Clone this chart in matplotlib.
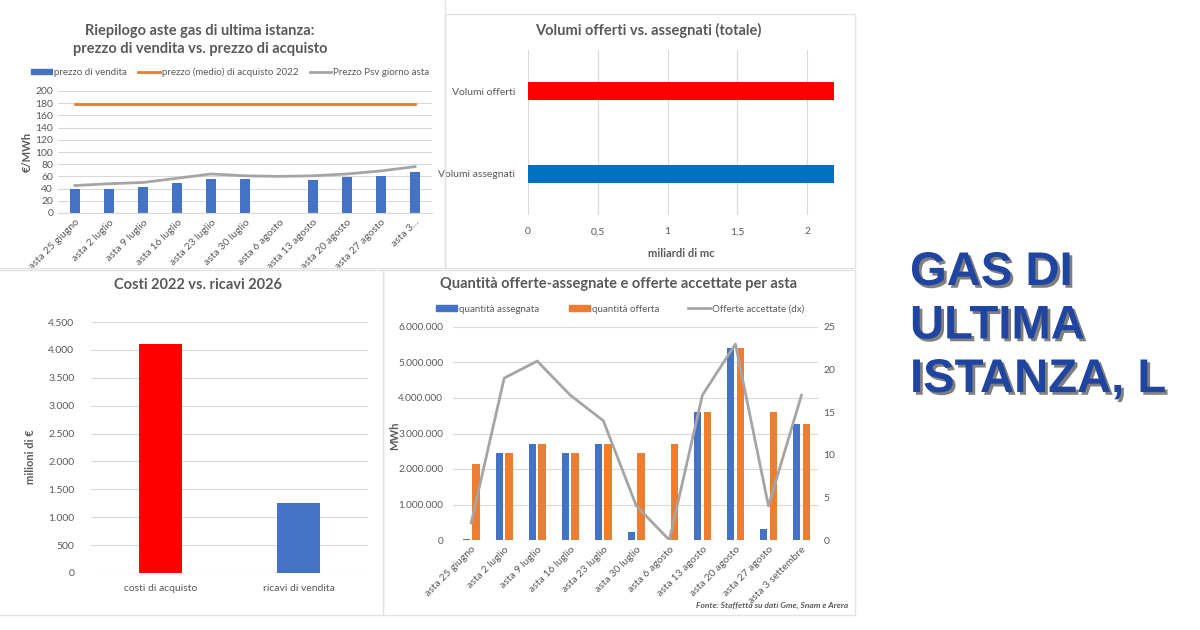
import numpy as np
import matplotlib
matplotlib.use("Agg")
import matplotlib.pyplot as plt
from matplotlib.patches import Patch, Rectangle
from matplotlib.lines import Line2D
from matplotlib.ticker import FuncFormatter
import matplotlib.patheffects as pe

# ---- data ----
aste = ["asta 25 giugno", "asta 2 luglio", "asta 9 luglio", "asta 16 luglio",
        "asta 23 luglio", "asta 30 luglio", "asta 6 agosto", "asta 13 agosto",
        "asta 20 agosto", "asta 27 agosto", "asta 3 settembre"]
aste_short = aste[:-1] + ["asta 3..."]

prezzo_vendita = [39, 39, 43, 50, 56, 55, np.nan, 54, 59, 61, 67]
prezzo_acquisto_2022 = [178] * 11
prezzo_psv = [45, 48, 50, 57, 64, 61, 60, 61, 64, 69, 76]

volumi_labels = ["Volumi assegnati", "Volumi offerti"]
volumi_mld_mc = [2.19, 2.19]

costi_labels = ["costi di acquisto", "ricavi di vendita"]
costi_mln = [4100, 1250]

q_assegnata = [30000, 2450000, 2700000, 2450000, 2700000, 220000, 0,
               3600000, 5400000, 300000, 3270000]
q_offerta = [2150000, 2450000, 2700000, 2450000, 2700000, 2450000, 2700000,
             3600000, 5400000, 3600000, 3270000]
offerte_accettate = [2, 19, 21, 17, 14, 4, 0, 17, 23, 4, 17]

# ---- style ----
W, H = 1200, 630
BLUE = "#4472C4"
ORANGE = "#ED7D31"
GRAY = "#A5A5A5"
TXT = "#595959"
GRID = "#D9D9D9"
plt.rcParams["font.family"] = ["Lato", "DejaVu Sans"]
plt.rcParams["text.color"] = TXT
plt.rcParams["axes.labelcolor"] = TXT
plt.rcParams["xtick.color"] = TXT
plt.rcParams["ytick.color"] = TXT


def px(x0, y0, x1, y1):
    return [x0 / W, 1 - y1 / H, (x1 - x0) / W, (y1 - y0) / H]


def dots(v, pos=None):
    return f"{int(round(v)):,}".replace(",", ".")


def clean(ax, axis="y"):
    for s in ax.spines.values():
        s.set_visible(False)
    ax.tick_params(length=0, labelsize=7.5)
    ax.grid(axis=axis, color=GRID, linewidth=0.8)
    ax.set_axisbelow(True)


fig = plt.figure(figsize=(W / 100, H / 100), dpi=100)
fig.patch.set_facecolor("white")

# panel borders
for (x0, y0, x1, y1) in [(-2, -2, 445, 268), (445, 14, 855, 268),
                         (-2, 270, 383, 615), (383, 270, 855, 615)]:
    fig.add_artist(Rectangle((x0 / W, 1 - y1 / H), (x1 - x0) / W, (y1 - y0) / H,
                             transform=fig.transFigure, fill=False,
                             edgecolor="#E3E3E3", linewidth=1))

# ---- chart 1: prezzi ----
ax1 = fig.add_axes(px(58, 91, 432, 213))
x = np.arange(len(aste))
ax1.bar(x, prezzo_vendita, width=0.32, color=BLUE, zorder=2)
ax1.plot(x, prezzo_acquisto_2022, color=ORANGE, linewidth=2, zorder=3)
ax1.plot(x, prezzo_psv, color=GRAY, linewidth=2, zorder=3)
ax1.set_xlim(-0.5, 10.5)
ax1.set_ylim(0, 200)
ax1.set_yticks(range(0, 201, 20))
ax1.set_xticks(x)
ax1.set_xticklabels(aste_short, rotation=45, ha="right", rotation_mode="anchor")
clean(ax1)
ax1.spines["bottom"].set_visible(True)
ax1.spines["bottom"].set_color(GRID)
fig.text(27 / W, 1 - 152 / H, "€/MWh", rotation=90, ha="center", va="center",
         fontsize=8, fontweight="bold")
fig.text(200 / W, 1 - 40 / H,
         "Riepilogo aste gas di ultima istanza:\nprezzo di vendita vs. prezzo di acquisto",
         ha="center", va="center", fontsize=10.5, fontweight="bold", linespacing=1.35)
h1 = [Patch(color=BLUE), Line2D([], [], color=ORANGE, lw=2),
      Line2D([], [], color=GRAY, lw=2)]
fig.legend(h1, ["prezzo di vendita", "prezzo (medio) di acquisto 2022",
                "Prezzo Psv giorno asta"],
           loc="center", bbox_to_anchor=(230 / W, 1 - 72 / H), ncol=3,
           frameon=False, fontsize=7, handlelength=2.2, handletextpad=0.2,
           columnspacing=1.2, handleheight=0.5)

# ---- chart 2: volumi ----
ax2 = fig.add_axes(px(528, 50, 835, 215))
ax2.barh([0, 1], volumi_mld_mc, height=0.22, color=["#0070C0", "#FF0000"], zorder=2)
ax2.set_xlim(0, 2.2)
ax2.set_ylim(-0.5, 1.5)
ax2.set_xticks([0, 0.5, 1, 1.5, 2])
ax2.set_xticklabels(["0", "0,5", "1", "1,5", "2"])
ax2.set_yticks([0, 1])
ax2.set_yticklabels(volumi_labels)
clean(ax2, axis="x")
ax2.tick_params(axis="x", pad=9)
ax2.tick_params(axis="y", pad=9)
ax2.set_xlabel("miliardi di mc", fontsize=8, fontweight="bold", labelpad=8)
fig.text(648 / W, 1 - 30 / H, "Volumi offerti vs. assegnati (totale)",
         ha="center", va="center", fontsize=10.5, fontweight="bold")

# ---- chart 3: costi vs ricavi ----
ax3 = fig.add_axes(px(91, 322, 368, 573))
ax3.bar([0, 1], costi_mln, width=0.31, color=["#FF0000", BLUE], zorder=2)
ax3.set_xlim(-0.5, 1.5)
ax3.set_ylim(0, 4500)
ax3.set_yticks(range(0, 4501, 500))
ax3.yaxis.set_major_formatter(FuncFormatter(dots))
ax3.set_xticks([0, 1])
ax3.set_xticklabels(costi_labels)
clean(ax3)
ax3.tick_params(axis="y", pad=12)
ax3.tick_params(axis="x", pad=8)
fig.text(31 / W, 1 - 457 / H, "milioni di €", rotation=90, ha="center",
         va="center", fontsize=8, fontweight="bold")
fig.text(198 / W, 1 - 285 / H, "Costi 2022 vs. ricavi 2026",
         ha="center", va="center", fontsize=10.5, fontweight="bold")

# ---- chart 4: quantita per asta ----
ax4 = fig.add_axes(px(453, 327, 818, 540))
ax4.bar(x - 0.145, q_assegnata, width=0.22, color=BLUE, zorder=2)
ax4.bar(x + 0.145, q_offerta, width=0.22, color=ORANGE, zorder=2)
ax4.set_xlim(-0.55, 10.5)
ax4.set_ylim(0, 6000000)
ax4.set_yticks(range(0, 6000001, 1000000))
ax4.yaxis.set_major_formatter(FuncFormatter(dots))
ax4.set_xticks(x)
ax4.set_xticklabels(aste, rotation=45, ha="right", rotation_mode="anchor")
clean(ax4)
ax4.tick_params(axis="y", pad=7, labelsize=7.2)
fig.text(395 / W, 1 - 436 / H, "MWh", rotation=90, ha="center", va="center",
         fontsize=8, fontweight="bold")
ax4b = ax4.twinx()
ax4b.plot(x, offerte_accettate, color=GRAY, linewidth=2, zorder=3)
ax4b.set_ylim(0, 25)
ax4b.set_yticks(range(0, 26, 5))
for s in ax4b.spines.values():
    s.set_visible(False)
ax4b.tick_params(length=0, labelsize=7.5, pad=4)
fig.text(619 / W, 1 - 284 / H,
         "Quantità offerte-assegnate e offerte accettate per asta",
         ha="center", va="center", fontsize=10.5, fontweight="bold")
h4 = [Patch(color=BLUE), Patch(color=ORANGE), Line2D([], [], color=GRAY, lw=2)]
fig.legend(h4, ["quantità assegnata", "quantità offerta", "Offerte accettate (dx)"],
           loc="center", bbox_to_anchor=(620 / W, 1 - 309 / H), ncol=3,
           frameon=False, fontsize=7, handlelength=2.2, handletextpad=0.2,
           columnspacing=3.0, handleheight=0.5)
fig.text(848 / W, 1 - 605 / H, "Fonte: Staffetta su dati Gme, Snam e Arera",
         ha="right", va="center", fontsize=6, fontweight="bold", style="italic")

# ---- big title ----
for i, line in enumerate(["GAS DI", "ULTIMA", "ISTANZA, L"]):
    fig.text(910 / W, 1 - (273 + 53.5 * i) / H, line, ha="left", va="center",
             fontsize=34, fontweight="bold", family="Liberation Sans",
             color="#1F45A0",
             path_effects=[pe.withSimplePatchShadow(offset=(2, -2),
                                                    shadow_rgbFace="#7F7F7F",
                                                    alpha=1)])

fig.savefig("out.png", dpi=100, facecolor="white")
